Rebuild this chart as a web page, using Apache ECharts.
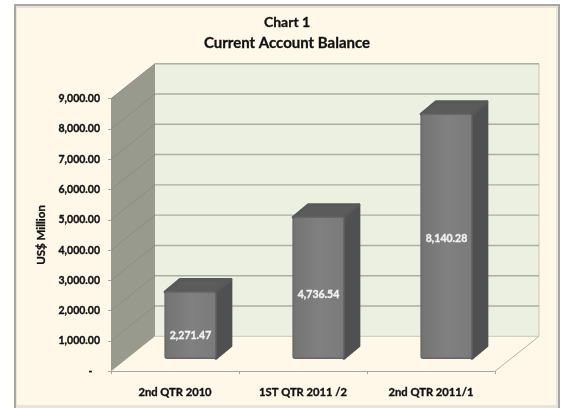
<!DOCTYPE html>
<html>
<head>
<meta charset="utf-8">
<style>html,body{margin:0;padding:0;background:#fff}#c{width:564px;height:408px}</style>
<script src="https://cdn.jsdelivr.net/npm/echarts@6/dist/echarts.min.js"></script>
</head>
<body>
<div id="c"></div>
<script>
var categories = ['2nd QTR 2010', '1ST QTR 2011 /2', '2nd QTR 2011/1'];
var values = [2271.47, 4736.54, 8140.28];
var valueLabels = ['2,271.47', '4,736.54', '8,140.28'];
var yTicks = [0, 1000, 2000, 3000, 4000, 5000, 6000, 7000, 8000, 9000];
var yTickLabels = ['-   ', '1,000.00', '2,000.00', '3,000.00', '4,000.00', '5,000.00', '6,000.00', '7,000.00', '8,000.00', '9,000.00'];
var titleLines = ['Chart 1', 'Current Account Balance'];
var yAxisTitle = 'US$ Million';

var FONT = 'Lato, "Open Sans", sans-serif';
var DEPTH_X = 44, DEPTH_Y = 35;

var chart = echarts.init(document.getElementById('c'), null, {renderer: 'canvas'});

function poly(points, fill, extra) {
  return Object.assign({type: 'polygon', shape: {points: points}, style: {fill: fill}, silent: true}, extra || {});
}
function seg(x1, y1, x2, y2, color, w) {
  return {type: 'line', shape: {x1: x1, y1: y1, x2: x2, y2: y2}, style: {stroke: color, lineWidth: w || 1}, silent: true};
}

function renderWallLines(params, api) {
  var cs = params.coordSys;
  var v = api.value(0);
  var y = api.coord([0, v])[1];
  var l = cs.x, r = cs.x + cs.width, bx = l + DEPTH_X, ex = r + DEPTH_X;
  var kids = [];
  if (params.dataIndex === 0) {
    var t = cs.y, b = cs.y + cs.height;
    kids.push(poly([[bx, t - DEPTH_Y], [ex, t - DEPTH_Y], [ex, b - DEPTH_Y], [bx, b - DEPTH_Y]], '#EBF0E0'));
    kids.push(poly([[l, t], [bx, t - DEPTH_Y], [bx, b - DEPTH_Y], [l, b]], '#979A8C'));
    kids.push(seg(ex, t - DEPTH_Y, ex, b - DEPTH_Y, '#C4C7B8'));
    kids.push(seg(r, b, ex, b - DEPTH_Y, '#B4B4A8'));
  }
  if (v > 0) {
    kids.push(seg(l, y, bx, y - DEPTH_Y, '#8B8E81'));
  }
  kids.push(seg(bx, y - DEPTH_Y, ex, y - DEPTH_Y, v > 0 ? '#ABAEA1' : '#C8C8B8', v > 0 ? 1.4 : 1));
  return {type: 'group', children: kids};
}

function renderBar(params, api) {
  var i = api.value(0);
  var c0 = api.coord([i, 0]);
  var c1 = api.coord([i, api.value(1)]);
  var w = api.size([1, 0])[0] * 0.396;
  var h = c0[1] - c1[1];
  var L = c0[0] + 15.5 - w / 2, R = L + w;
  var B = c0[1] - 13, T = c1[1] - 10.5;
  var dx = 15, dy = 12.5;
  var join = {lineJoin: 'round', lineWidth: 3};
  return {type: 'group', children: [
    poly([[R, B], [R + dx, B - dy], [R + dx, T - dy], [R, T]], '#505050',
      {style: Object.assign({fill: '#505050', stroke: '#505050'}, join)}),
    poly([[L, T], [L + dx, T - dy], [R + dx, T - dy], [R, T]], '#5B5B5B',
      {style: Object.assign({fill: '#5B5B5B', stroke: '#585858'}, join)}),
    {type: 'rect', shape: {x: L, y: T, width: w, height: B - T, r: 2}, silent: true,
      style: {
        stroke: '#666666', lineWidth: 1.5,
        fill: new echarts.graphic.LinearGradient(0, 0, 1, 0, [
          {offset: 0, color: '#737373'}, {offset: 0.5, color: '#808080'}, {offset: 1, color: '#7A7A7A'}
        ])
      }},
    {type: 'text', silent: true, style: {
      x: (L + R) / 2, y: c0[1] + 2.5 - 0.55 * h,
      text: valueLabels[i], fill: '#F2F2F2', stroke: '#F2F2F2', lineWidth: 0.35, font: 'bold 10.5px ' + FONT,
      align: 'center', verticalAlign: 'middle'
    }}
  ]};
}

var heavy = {textBorderColor: '#111', textBorderWidth: 0.35};

chart.setOption({
  animation: false,
  backgroundColor: '#fff',
  graphic: {elements: [
    {type: 'rect', z: -10, silent: true, shape: {x: 14, y: 4, width: 546, height: 404}, style: {fill: '#A9A6A0'}},
    {type: 'rect', z: -9, silent: true, shape: {x: 16, y: 6, width: 542, height: 402}, style: {fill: '#E8E4DA'}},
    {type: 'rect', z: -8, silent: true, shape: {x: 17, y: 8, width: 539, height: 397}, style: {fill: '#FFF8E8'}},
    {type: 'text', z: 5, silent: true, style: {x: 287, y: 22.5, text: titleLines[0], fill: '#111', stroke: '#111', lineWidth: 0.3, font: 'bold 14px ' + FONT, align: 'center', verticalAlign: 'middle'}},
    {type: 'text', z: 5, silent: true, style: {x: 287, y: 43, text: titleLines[1], fill: '#111', stroke: '#111', lineWidth: 0.3, font: 'bold 15px ' + FONT, align: 'center', verticalAlign: 'middle'}}
  ]},
  grid: {left: 111, top: 98.7, width: 384, height: 272.6, containLabel: false},
  xAxis: {
    type: 'category',
    data: categories,
    axisLine: {show: true, lineStyle: {color: '#A8A8A0', width: 1}},
    axisTick: {show: true, length: 3, lineStyle: {color: '#A8A8A0'}},
    axisLabel: Object.assign({margin: 16, color: '#111', fontFamily: FONT, fontWeight: 'bold', fontSize: 11.2, interval: 0}, heavy),
    splitLine: {show: false}
  },
  yAxis: {
    type: 'value',
    min: 0, max: 9000, interval: 1000,
    name: yAxisTitle,
    nameLocation: 'middle',
    nameGap: 62,
    nameRotate: 90,
    nameTextStyle: Object.assign({color: '#111', fontFamily: FONT, fontWeight: 'bold', fontSize: 11.5}, heavy),
    axisLine: {show: false},
    axisTick: {show: true, length: 3, lineStyle: {color: '#A8A8A0'}},
    axisLabel: Object.assign({
      margin: 11, color: '#111', fontFamily: FONT, fontWeight: 'bold', fontSize: 10.5,
      formatter: function (v) { return yTickLabels[yTicks.indexOf(v)]; }
    }, heavy),
    splitLine: {show: false}
  },
  series: [
    {type: 'custom', z: 1, clip: false, coordinateSystem: 'cartesian2d', renderItem: renderWallLines,
      encode: {x: 1, y: 0}, data: yTicks.map(function (t) { return [t, 0]; })},
    {type: 'custom', z: 3, clip: false, coordinateSystem: 'cartesian2d', renderItem: renderBar,
      encode: {x: 0, y: 1}, data: values.map(function (v, i) { return [i, v]; })}
  ]
});
</script>
</body>
</html>
